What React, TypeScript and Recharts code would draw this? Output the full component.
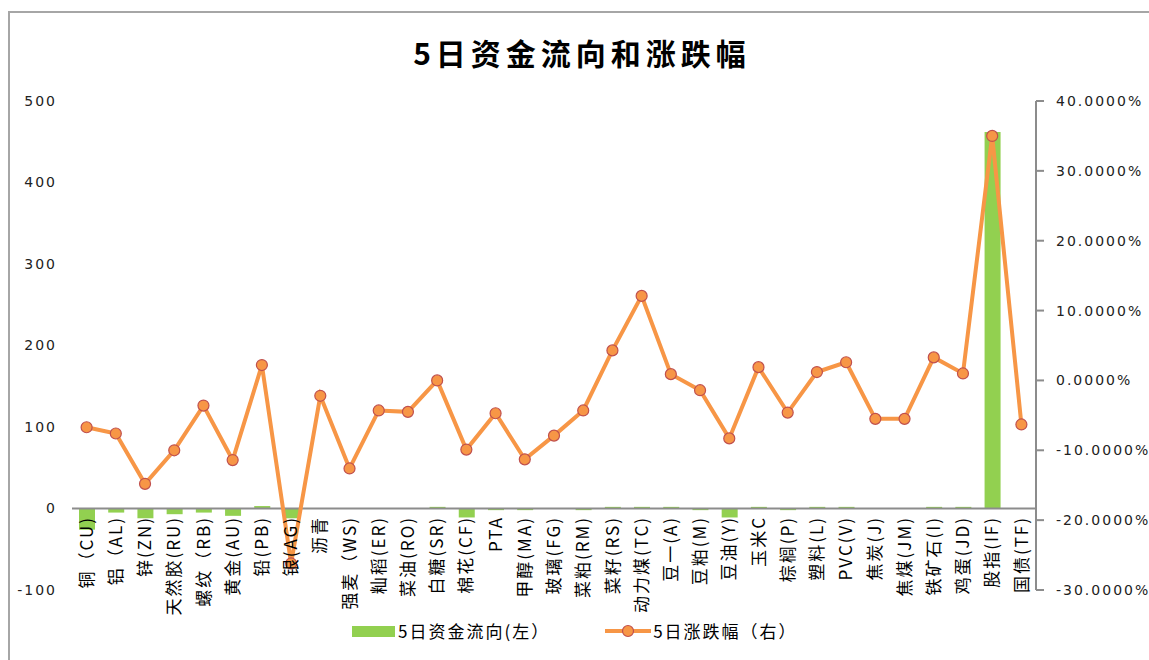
import React from 'react';
import { ComposedChart, Bar, Line, XAxis, YAxis, ReferenceLine } from 'recharts';

// 品种
const categories = [
  '铜（CU)', '铝（AL)', '锌(ZN)', '天然胶(RU)', '螺纹（RB)', '黄金(AU)', '铅(PB)', '银(AG)',
  '沥青', '强麦（WS)', '籼稻(ER)', '菜油(RO)', '白糖(SR)', '棉花(CF)', 'PTA', '甲醇(MA)',
  '玻璃(FG)', '菜粕(RM)', '菜籽(RS)', '动力煤(TC)', '豆一(A)', '豆粕(M)', '豆油(Y)', '玉米C',
  '棕榈(P)', '塑料(L)', 'PVC(V)', '焦炭(J)', '焦煤(JM)', '铁矿石(I)', '鸡蛋(JD)', '股指(IF)', '国债(TF)',
];

// 5日资金流向（左轴）
const fundFlow = [
  -26, -5, -12, -7, -5, -9, 3, -12,
  0, 0, 0, 0, 2, -11, -2, -2,
  0, -2, 2, 2, 2, -2, -11, 2,
  -2, 2, 2, 0, 0, 2, 2, 462, 0,
];

// 5日涨跌幅 %（右轴）
const changePct = [
  -6.7, -7.6, -14.8, -10.0, -3.6, -11.4, 2.2, -26.2,
  -2.2, -12.6, -4.3, -4.5, 0.0, -9.9, -4.7, -11.3,
  -7.9, -4.3, 4.3, 12.1, 0.9, -1.4, -8.3, 1.9,
  -4.6, 1.2, 2.6, -5.5, -5.5, 3.3, 1.0, 35.0, -6.3,
];

const leftTicks = [-100, 0, 100, 200, 300, 400, 500];
const rightTicks = [-30, -20, -10, 0, 10, 20, 30, 40];

const data = categories.map((name, i) => ({ name, flow: fundFlow[i], pct: changePct[i] }));

const GREEN = '#92D050';
const ORANGE = '#F79646';
const MARKER_EDGE = '#C0504D';
const AXIS_GRAY = '#8c8c8c';
const CJK = '"Noto Sans CJK SC", "Noto Sans", sans-serif';
const NUM = '"DejaVu Sans", Verdana, sans-serif';

// 类目标签画在零线下方，竖排
const CategoryTick = (props: any) => {
  const { x, y, payload } = props;
  return (
    <text
      transform={`translate(${x},${y - 74}) rotate(-90)`}
      textAnchor="end"
      dy="0.36em"
      fontSize={17}
      letterSpacing={2}
      fontFamily={CJK}
      fill="#000"
    >
      {payload.value}
    </text>
  );
};

const App: React.FC = () => {
  return (
    <div style={{ position: 'absolute', left: 0, top: 0, width: 1149, height: 660, background: '#fff', overflow: 'hidden' }}>
      <div style={{ position: 'absolute', left: 8, top: 11, right: 0, bottom: 0, borderLeft: '2px solid #a6a6a6', borderTop: '2px solid #a6a6a6' }} />
      <div
        style={{
          position: 'absolute', left: 0, width: 1164, top: 32, textAlign: 'center',
          fontFamily: CJK, fontWeight: 'bold', fontSize: 30, letterSpacing: 5, color: '#000', lineHeight: '40px',
        }}
      >
        5日资金流向和涨跌幅
      </div>

      <div style={{ position: 'absolute', left: 0, top: 0 }}>
        <ComposedChart width={1149} height={660} data={data} margin={{ top: 101, right: 0, bottom: 0, left: 0 }}>
          <XAxis
            dataKey="name"
            height={70}
            axisLine={false}
            tickLine={false}
            tickSize={0}
            tickMargin={0}
            interval={0}
            tick={<CategoryTick />}
          />
          <YAxis
            yAxisId="left"
            orientation="left"
            width={72}
            domain={[-100, 500]}
            ticks={leftTicks}
            axisLine={false}
            tickLine={false}
            tickSize={0}
            tickMargin={15}
            tick={{ fontSize: 14, fontFamily: NUM, fill: '#222', letterSpacing: 2 }}
          />
          <YAxis
            yAxisId="right"
            orientation="right"
            width={113}
            domain={[-30, 40]}
            ticks={rightTicks}
            axisLine={{ stroke: AXIS_GRAY, strokeWidth: 2 }}
            tickLine={{ stroke: AXIS_GRAY, strokeWidth: 2 }}
            tickSize={8}
            tickMargin={12}
            tickFormatter={(v: number) => `${v.toFixed(4)}%`}
            tick={{ fontSize: 14, fontFamily: NUM, fill: '#222', letterSpacing: 2, textAnchor: 'start' }}
          />
          <Bar yAxisId="left" dataKey="flow" fill={GREEN} barSize={16} isAnimationActive={false} />
          <ReferenceLine yAxisId="left" y={0} stroke={AXIS_GRAY} strokeWidth={2} />
          <Line
            yAxisId="right"
            dataKey="pct"
            stroke={ORANGE}
            strokeWidth={4}
            dot={{ r: 5.5, fill: ORANGE, stroke: MARKER_EDGE, strokeWidth: 1.2 }}
            activeDot={false}
            isAnimationActive={false}
          />
        </ComposedChart>
      </div>

      <div style={{ position: 'absolute', left: 352, top: 619, display: 'flex', alignItems: 'center', fontFamily: CJK, fontSize: 17, letterSpacing: 2, color: '#000', lineHeight: '24px' }}>
        <span style={{ display: 'inline-block', width: 43, height: 11, background: GREEN, marginRight: 3 }} />
        <span>5日资金流向(左）</span>
        <svg width={46} height={16} style={{ marginLeft: 55 }}>
          <line x1={0} y1={8} x2={46} y2={8} stroke={ORANGE} strokeWidth={4} />
          <circle cx={23} cy={8} r={5.5} fill={ORANGE} stroke={MARKER_EDGE} strokeWidth={1.2} />
        </svg>
        <span style={{ marginLeft: 2 }}>5日涨跌幅（右）</span>
      </div>
    </div>
  );
};

export default App;
